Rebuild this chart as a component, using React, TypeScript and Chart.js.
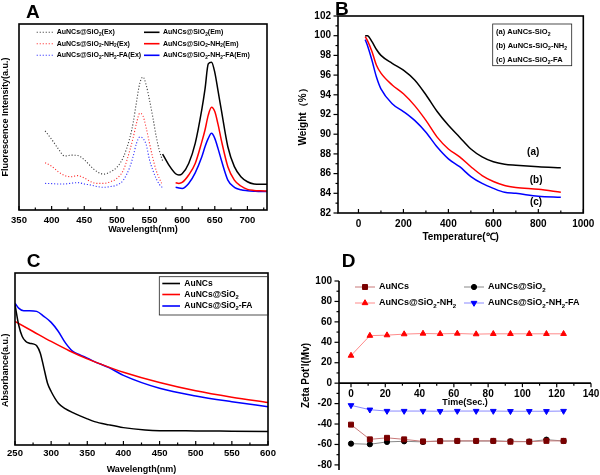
import React, { useEffect, useRef } from 'react';
import { Chart, registerables } from 'chart.js';

Chart.register(...registerables);

const FONT = "'Liberation Sans', Arial, Helvetica, sans-serif";
Chart.defaults.font.family = FONT;
Chart.defaults.color = '#000';

// ---------- Panel A : fluorescence ----------
const A_EX_X = [390, 400, 410, 420, 430, 440, 450, 460, 470, 480, 490, 500, 510, 520, 525, 530, 535, 540, 545, 550, 555, 560, 565, 570];
const A_EX_SIO2 = [42.5, 38, 33, 29, 29.5, 29.3, 27, 23.5, 20.5, 19.3, 20.5, 23, 28.5, 39, 47, 58, 68, 71.5, 67, 59, 50, 40, 32, 26.5];
const A_EX_NH2 = [25.4, 23.5, 20.6, 18.5, 17.9, 18.5, 17.2, 15.2, 14.3, 14.3, 15.2, 17, 21.5, 32.3, 39, 46.6, 52, 50.5, 44, 35.8, 28, 21.5, 17, 13.4];
const A_EX_FA = [14.3, 14.2, 14, 14, 14.4, 14.7, 14, 13.4, 12.6, 12.2, 12.6, 13.4, 16.1, 23.3, 29, 35.8, 39.2, 38.5, 35, 26.9, 21.5, 17, 13.8, 12];
const A_EM_X = [570, 580, 590, 595, 600, 610, 620, 630, 635, 640, 645, 650, 655, 660, 670, 680, 690, 700, 710, 720, 730];
const A_EM_SIO2 = [30.1, 24, 19.5, 18.8, 19.5, 25, 35.8, 53.8, 65, 78.5, 79.5, 74, 64, 53.8, 34, 23.3, 17.9, 15.2, 14, 13.8, 13.8];
const A_EM_NH2 = [null, null, 14.6, 14.3, 14.8, 18.8, 25, 36.5, 43, 51, 55.2, 52.9, 46, 37.6, 23.3, 16.1, 12.9, 11.1, 10.5, 10.3, 10.2];
const A_EM_FA = [null, null, 12.2, 11.8, 11.6, 14.3, 20, 28.5, 34, 38.5, 41.2, 38.5, 33, 26.9, 16.1, 12.2, 10.9, 10.4, 10.1, 9.9, 9.9];
const A_X_TICKS = [350, 400, 450, 500, 550, 600, 650, 700];
const A_X_MINOR = [375, 425, 475, 525, 575, 625, 675, 725];
const A_LEGEND = ['AuNCs@SiO_2(Ex)', 'AuNCs@SiO_2-NH_2(Ex)', 'AuNCs@SiO_2-NH_2-FA(Ex)', 'AuNCs@SiO_2(Em)', 'AuNCs@SiO_2-NH_2(Em)', 'AuNCs@SiO_2-NH_2-FA(Em)'];

// ---------- Panel B : TGA ----------
const B_X = [30, 40, 60, 80, 100, 150, 200, 250, 300, 350, 400, 450, 500, 550, 600, 650, 700, 800, 900];
const B_SIO2 = [100, 100, 99.4, 98.6, 98.0, 97.2, 96.5, 95.5, 94.0, 92.3, 90.9, 89.7, 88.5, 87.7, 87.2, 86.95, 86.85, 86.7, 86.6];
const B_NH2 = [99.9, 99.5, 98.4, 97.0, 96.2, 95.0, 94.1, 92.9, 91.4, 89.7, 88.5, 87.7, 86.7, 85.8, 85.2, 84.8, 84.6, 84.4, 84.1];
const B_FA = [99.6, 99.0, 97.5, 95.8, 94.6, 93.1, 92.3, 91.4, 90.2, 88.7, 87.5, 86.7, 85.7, 85.0, 84.5, 84.1, 84.0, 83.7, 83.6];
const B_X_TICKS = [0, 200, 400, 600, 800, 1000];
const B_X_MINOR = [100, 300, 500, 700, 900];
const B_Y_TICKS = [82, 84, 86, 88, 90, 92, 94, 96, 98, 100, 102];
const B_Y_MINOR = [83, 85, 87, 89, 91, 93, 95, 97, 99, 101];
const B_LEGEND = ['(a) AuNCs-SiO_2', '(b) AuNCs-SiO_2-NH_2', '(c) AuNCs-SiO_2-FA'];
const B_TAGS = ['(a)', '(b)', '(c)'];
const B_TAG_X = [777, 790, 790];
const B_TAG_Y = [88.2, 85.3, 83.05];

// ---------- Panel C : UV-vis ----------
const C_BLACK_X = [250, 255, 260, 265, 270, 275, 280, 285, 290, 295, 300, 310, 320, 330, 340, 350, 360, 380, 400, 430, 450, 500, 550, 600];
const C_BLACK = [81.6, 69.9, 63.1, 60.2, 59.2, 58.8, 57.7, 53.4, 44.7, 35.9, 31.1, 24.3, 21, 18.8, 16.9, 15.2, 13.6, 11.7, 10.1, 8.7, 8.3, 8.2, 8.0, 7.8];
const C_RED_X = [250, 275, 300, 325, 350, 375, 400, 450, 500, 550, 600];
const C_RED = [71.8, 66, 60.2, 54.8, 50.1, 46, 42.3, 36.3, 31.5, 27.8, 24.7];
const C_BLUE_X = [250, 255, 262, 270, 280, 290, 300, 310, 320, 330, 340, 350, 360, 380, 400, 450, 500, 550, 600];
const C_BLUE = [82.5, 79.6, 78.1, 78.1, 77.7, 74.8, 71.3, 66, 59.2, 54.4, 52.4, 50.5, 48.5, 45, 40.5, 33, 28.5, 25.2, 22.3];
const C_X_TICKS = [250, 300, 350, 400, 450, 500, 550, 600];
const C_X_MINOR = [275, 325, 375, 425, 475, 525, 575];
const C_LEGEND = ['AuNCs', 'AuNCs@SiO_2', 'AuNCs@SiO_2-FA'];

// ---------- Panel D : zeta potential ----------
const D_TIME = [0, 11, 21, 31, 42, 52, 62, 73, 83, 93, 104, 114, 124];
const D_AUNCS = [-40.6, -55, -53.5, -55, -57, -56.8, -56.5, -56.5, -56.5, -57.3, -57.3, -56.5, -56.5];
const D_SIO2 = [-59.2, -59.8, -57.5, -56.9, -57.5, -56.6, -56.6, -56.6, -56.6, -56.9, -57.2, -55.3, -56.6];
const D_NH2 = [27, 46.5, 47, 48, 48.6, 48.3, 48.6, 48, 48.3, 48.3, 48.3, 48.3, 48.3];
const D_FA = [-21.7, -26, -27.3, -27.3, -27.3, -27.5, -27.3, -27.3, -27.3, -27.5, -27.5, -27.5, -27.3];
const D_X_TICKS = [0, 20, 40, 60, 80, 100, 120, 140];
const D_X_MINOR = [10, 30, 50, 70, 90, 110, 130];
const D_Y_TICKS = [-80, -60, -40, -20, 0, 20, 40, 60, 80, 100];
const D_Y_MINOR = [-70, -50, -30, -10, 10, 30, 50, 70, 90];
const D_LEGEND = ['AuNCs', 'AuNCs@SiO_2', 'AuNCs@SiO_2-NH_2', 'AuNCs@SiO_2-NH_2-FA'];

// ---------- helpers ----------
type Tick = { major: number[]; minor?: number[]; dir: 'in' | 'out'; len: number; minorLen: number };
type Marker = { style: string; color: string; r: number };
type LegendItem = { text: string; color: string; lw: number; dash?: number[]; x0: number; x1: number; tx: number; y: number; marker?: Marker };
type TextItem = { text: string; x: number; y: number; size: number; align?: CanvasTextAlign; baseline?: CanvasTextBaseline; data?: boolean };
type PanelCfg = {
  box: boolean; xAxisAt?: number; xTicks?: Tick; yTicks?: Tick;
  legend?: LegendItem[]; legendSize?: number; legendBox?: number[]; texts?: TextItem[];
};

function drawRich(ctx: CanvasRenderingContext2D, text: string, x: number, y: number, size: number) {
  const parts: { t: string; sub: boolean }[] = [];
  let buf = '';
  for (let i = 0; i < text.length; i++) {
    if (text[i] === '_' && i + 1 < text.length) {
      if (buf) parts.push({ t: buf, sub: false });
      buf = '';
      parts.push({ t: text[i + 1], sub: true });
      i++;
    } else buf += text[i];
  }
  if (buf) parts.push({ t: buf, sub: false });
  ctx.textAlign = 'left';
  ctx.textBaseline = 'middle';
  let cx = x;
  for (const p of parts) {
    const fs = p.sub ? size * 0.68 : size;
    ctx.font = `bold ${fs}px ${FONT}`;
    ctx.fillText(p.t, cx, p.sub ? y + size * 0.32 : y);
    cx += ctx.measureText(p.t).width;
  }
}

function drawMarker(ctx: CanvasRenderingContext2D, m: Marker, x: number, y: number) {
  ctx.save();
  ctx.setLineDash([]);
  ctx.fillStyle = m.color;
  ctx.strokeStyle = m.color;
  ctx.lineWidth = 1;
  ctx.beginPath();
  const r = m.r;
  if (m.style === 'rect') {
    const s = r * Math.SQRT1_2;
    ctx.rect(x - s, y - s, 2 * s, 2 * s);
  } else if (m.style === 'circle') {
    ctx.arc(x, y, r, 0, Math.PI * 2);
  } else {
    const k = m.style === 'triangleDown' ? -1 : 1;
    for (let i = 0; i < 3; i++) {
      const a = (i * 2 * Math.PI) / 3;
      const px = x + Math.sin(a) * r * k;
      const py = y - Math.cos(a) * r * k;
      if (i === 0) ctx.moveTo(px, py); else ctx.lineTo(px, py);
    }
    ctx.closePath();
  }
  ctx.fill();
  ctx.stroke();
  ctx.restore();
}

function makePanelPlugin(cfg: PanelCfg) {
  return {
    id: 'panel',
    afterDraw(chart: any) {
      const { ctx, chartArea: ca, scales } = chart;
      const xs = scales.x;
      const ys = scales.y;
      const line = (x1: number, y1: number, x2: number, y2: number) => {
        ctx.beginPath(); ctx.moveTo(x1, y1); ctx.lineTo(x2, y2); ctx.stroke();
      };
      ctx.save();
      ctx.strokeStyle = '#000';
      ctx.fillStyle = '#000';
      const axisY = cfg.xAxisAt !== undefined ? ys.getPixelForValue(cfg.xAxisAt) : ca.bottom;
      ctx.lineWidth = 1.2;
      if (cfg.xTicks) {
        const t = cfg.xTicks;
        const d = t.dir === 'out' ? 1 : -1;
        t.major.forEach((v) => { const p = xs.getPixelForValue(v); line(p, axisY, p, axisY + d * t.len); });
        (t.minor || []).forEach((v) => { const p = xs.getPixelForValue(v); line(p, axisY, p, axisY + d * t.minorLen); });
      }
      if (cfg.yTicks) {
        const t = cfg.yTicks;
        const d = t.dir === 'out' ? -1 : 1;
        t.major.forEach((v) => { const p = ys.getPixelForValue(v); line(ca.left, p, ca.left + d * t.len, p); });
        (t.minor || []).forEach((v) => { const p = ys.getPixelForValue(v); line(ca.left, p, ca.left + d * t.minorLen, p); });
      }
      ctx.lineWidth = 1.6;
      if (cfg.box) {
        ctx.strokeRect(ca.left, ca.top, ca.right - ca.left, ca.bottom - ca.top);
      } else {
        line(ca.left, ca.top, ca.left, ca.bottom);
        line(ca.left, axisY, ca.right, axisY);
      }
      if (cfg.legendBox) {
        const [bx, by, bw, bh] = cfg.legendBox;
        ctx.lineWidth = 0.8;
        ctx.strokeStyle = '#222';
        ctx.strokeRect(bx, by, bw, bh);
      }
      (cfg.legend || []).forEach((it) => {
        if (it.lw > 0) {
          ctx.save();
          ctx.strokeStyle = it.color;
          ctx.lineWidth = it.lw;
          ctx.setLineDash(it.dash || []);
          line(it.x0, it.y, it.x1, it.y);
          ctx.restore();
        }
        if (it.marker) drawMarker(ctx, it.marker, (it.x0 + it.x1) / 2, it.y);
        ctx.fillStyle = '#000';
        drawRich(ctx, it.text, it.tx, it.y, cfg.legendSize || 8);
      });
      (cfg.texts || []).forEach((t) => {
        ctx.fillStyle = '#000';
        ctx.font = `bold ${t.size}px ${FONT}`;
        ctx.textAlign = t.align || 'left';
        ctx.textBaseline = t.baseline || 'alphabetic';
        const px = t.data ? xs.getPixelForValue(t.x) : t.x;
        const py = t.data ? ys.getPixelForValue(t.y) : t.y;
        ctx.fillText(t.text, px, py);
      });
      ctx.restore();
    },
  };
}

const zeroPad = (s: any) => { s.paddingLeft = 0; s.paddingRight = 0; s.paddingTop = 0; s.paddingBottom = 0; };
const fitW = (w: number) => (s: any) => { s.width = w; zeroPad(s); };
const fitH = (h: number) => (s: any) => { s.height = h; zeroPad(s); };
const setTicks = (vals: number[]) => (s: any) => { s.ticks = vals.map((v) => ({ value: v })); };

function axis(o: {
  min: number; max: number; ticks?: number[]; fit: (s: any) => void; tickSize?: number; tickPad?: number;
  showTicks?: boolean; title: string; titleSize: number; titlePad: { top: number; bottom: number }; position?: any;
}) {
  const a: any = {
    type: 'linear', min: o.min, max: o.max,
    afterFit: o.fit,
    grid: { display: false, drawTicks: false },
    border: { display: false },
    ticks: {
      display: o.showTicks !== false, autoSkip: false, maxRotation: 0, minRotation: 0,
      padding: o.tickPad ?? 5, font: { size: o.tickSize ?? 10, weight: 'bold' }, color: '#000',
      callback: (v: any) => String(v),
    },
    title: { display: true, text: o.title, color: '#000', font: { size: o.titleSize, weight: 'bold' }, padding: o.titlePad },
  };
  if (o.ticks) a.afterBuildTicks = setTicks(o.ticks);
  if (o.position !== undefined) a.position = o.position;
  return a;
}

const pts = (xs: number[], ys: (number | null)[]) => xs.map((x, i) => ({ x, y: ys[i] }));
const curve = (label: string, data: any[], color: string, width: number, dash?: number[]) => ({
  label, data, borderColor: color, backgroundColor: color, borderWidth: width, borderDash: dash || [],
  pointRadius: 0, fill: false, cubicInterpolationMode: 'monotone', spanGaps: false,
});

const baseOptions = (padding: any, scales: any) => ({
  animation: false, responsive: false, maintainAspectRatio: false,
  layout: { padding },
  plugins: { legend: { display: false }, tooltip: { enabled: false } },
  events: [],
  scales,
});

// ---------- chart configs ----------
const EX_COLORS = ['#3a3a3a', '#ff3030', '#3030ff'];
const EM_COLORS = ['#000000', '#ff0000', '#0000ff'];
const DOT = [1.1, 1.9];

function buildA() {
  const rows = [32.3, 43.7, 55.3];
  const legend: LegendItem[] = [
    ...[0, 1, 2].map((i) => ({ text: A_LEGEND[i], color: EX_COLORS[i], lw: 1.1, dash: DOT, x0: 36.7, x1: 53.3, tx: 56.7, y: rows[i] })),
    ...[0, 1, 2].map((i) => ({ text: A_LEGEND[i + 3], color: EM_COLORS[i], lw: 1.6, x0: 144, x1: 159.5, tx: 163, y: rows[i] })),
  ];
  return {
    type: 'line',
    data: {
      datasets: [
        curve(A_LEGEND[0], pts(A_EX_X, A_EX_SIO2), EX_COLORS[0], 1.1, DOT),
        curve(A_LEGEND[1], pts(A_EX_X, A_EX_NH2), EX_COLORS[1], 1.1, DOT),
        curve(A_LEGEND[2], pts(A_EX_X, A_EX_FA), EX_COLORS[2], 1.1, DOT),
        curve(A_LEGEND[3], pts(A_EM_X, A_EM_SIO2), EM_COLORS[0], 1.5),
        curve(A_LEGEND[4], pts(A_EM_X, A_EM_NH2), EM_COLORS[1], 1.5),
        curve(A_LEGEND[5], pts(A_EM_X, A_EM_FA), EM_COLORS[2], 1.5),
      ],
    },
    options: baseOptions({ left: 0, top: 24, right: 33, bottom: 0 }, {
      x: axis({ min: 350, max: 730, ticks: A_X_TICKS, fit: fitH(30), tickSize: 9.5, tickPad: 5, title: 'Wavelength(nm)', titleSize: 9, titlePad: { top: 0, bottom: 4.6 } }),
      y: axis({ min: 0, max: 100, fit: fitW(19), showTicks: false, title: 'Fluorescence Intensity(a.u.)', titleSize: 9, titlePad: { top: 0, bottom: 0 } }),
    }),
    plugins: [makePanelPlugin({
      box: true,
      xTicks: { major: A_X_TICKS, minor: A_X_MINOR, dir: 'in', len: 4, minorLen: 2.5 },
      legend, legendSize: 7,
      texts: [{ text: 'A', x: 26, y: 18, size: 19 }],
    })],
  };
}

function buildB() {
  const rows = [32.3, 45.7, 60];
  return {
    type: 'line',
    data: {
      datasets: [
        curve('(a)', pts(B_X, B_SIO2), '#000000', 1.5),
        curve('(b)', pts(B_X, B_NH2), '#ff0000', 1.5),
        curve('(c)', pts(B_X, B_FA), '#0000ff', 1.5),
      ],
    },
    options: baseOptions({ left: 0, top: 16, right: 16.7, bottom: 0 }, {
      x: axis({ min: -91, max: 1000, ticks: B_X_TICKS, fit: fitH(37), tickSize: 10, tickPad: 5, title: 'Temperature(℃)', titleSize: 10, titlePad: { top: 0, bottom: 7 } }),
      y: axis({ min: 82, max: 102, ticks: B_Y_TICKS, fit: fitW(41), tickSize: 10, tickPad: 7, title: 'Weight（%）', titleSize: 10, titlePad: { top: 0, bottom: 0 } }),
    }),
    plugins: [makePanelPlugin({
      box: true,
      xTicks: { major: B_X_TICKS, minor: B_X_MINOR, dir: 'in', len: 4, minorLen: 2.5 },
      yTicks: { major: B_Y_TICKS, minor: B_Y_MINOR, dir: 'out', len: 4.5, minorLen: 2.5 },
      legendBox: [195.7, 24, 79, 41.7],
      legend: B_LEGEND.map((t, i) => ({ text: t, color: '#000', lw: 0, x0: 199, x1: 199, tx: 199, y: rows[i] })),
      legendSize: 7.5,
      texts: [
        { text: 'B', x: 38, y: 15, size: 19 },
        ...B_TAGS.map((t, i) => ({ text: t, x: B_TAG_X[i], y: B_TAG_Y[i], size: 10, align: 'center' as CanvasTextAlign, baseline: 'middle' as CanvasTextBaseline, data: true })),
      ],
    })],
  };
}

function buildC() {
  const rows = [43.5, 54.5, 66];
  return {
    type: 'line',
    data: {
      datasets: [
        curve(C_LEGEND[0], pts(C_BLACK_X, C_BLACK), '#000000', 1.5),
        curve(C_LEGEND[1], pts(C_RED_X, C_RED), '#ff0000', 1.5),
        curve(C_LEGEND[2], pts(C_BLUE_X, C_BLUE), '#0000ff', 1.5),
      ],
    },
    options: baseOptions({ left: 0, top: 33, right: 32, bottom: 0 }, {
      x: axis({ min: 250, max: 600, ticks: C_X_TICKS, fit: fitH(30), tickSize: 9.5, tickPad: 3, title: 'Wavelength(nm)', titleSize: 9, titlePad: { top: 0, bottom: 0 } }),
      y: axis({ min: 0, max: 100, fit: fitW(15), showTicks: false, title: 'Absorbance(a.u.)         ', titleSize: 9, titlePad: { top: 0, bottom: 0 } }),
    }),
    plugins: [makePanelPlugin({
      box: true,
      xTicks: { major: C_X_TICKS, minor: C_X_MINOR, dir: 'in', len: 4, minorLen: 2.5 },
      legendBox: [159.3, 36.7, 109, 38.3],
      legend: C_LEGEND.map((t, i) => ({ text: t, color: EM_COLORS[i], lw: 1.6, x0: 162.3, x1: 180, tx: 184.3, y: rows[i] })),
      legendSize: 8.5,
      texts: [{ text: 'C', x: 26.7, y: 26.7, size: 19 }],
    })],
  };
}

const D_STYLE = [
  { line: '#c87878', mark: '#7a0000', style: 'rect', ds: 'rect', rot: 0, r: 3.5 },
  { line: '#888888', mark: '#000000', style: 'circle', ds: 'circle', rot: 0, r: 2.6 },
  { line: '#ff8a8a', mark: '#ff0000', style: 'triangle', ds: 'triangle', rot: 0, r: 3.3 },
  { line: '#8a8aff', mark: '#0000ff', style: 'triangleDown', ds: 'triangle', rot: 180, r: 3.3 },
];

function buildD() {
  const series = [D_AUNCS, D_SIO2, D_NH2, D_FA];
  const lx = [[55, 75, 79], [164, 184, 188], [55, 75, 79], [164, 184, 188]];
  const ly = [47, 47, 63, 63];
  return {
    type: 'line',
    data: {
      datasets: series.map((vals, i) => ({
        label: D_LEGEND[i], data: pts(D_TIME, vals), borderColor: D_STYLE[i].line, borderWidth: 1,
        pointRadius: D_STYLE[i].r, pointStyle: D_STYLE[i].ds, pointRotation: D_STYLE[i].rot,
        pointBackgroundColor: D_STYLE[i].mark, pointBorderColor: D_STYLE[i].mark, pointBorderWidth: 1,
        tension: 0, fill: false,
      })),
    },
    options: baseOptions({ left: 0, top: 41, right: 9, bottom: 5 }, {
      x: axis({ min: -7, max: 140, ticks: D_X_TICKS, fit: fitH(25), tickSize: 10, tickPad: 5, title: 'Time(Sec.)', titleSize: 9, titlePad: { top: 0, bottom: 0 }, position: { y: 0 } }),
      y: axis({ min: -85, max: 100, ticks: D_Y_TICKS, fit: fitW(39), tickSize: 10, tickPad: 7, title: "Zeta Pot'l(Mv)", titleSize: 10, titlePad: { top: 0, bottom: 0 } }),
    }),
    plugins: [makePanelPlugin({
      box: false, xAxisAt: 0,
      xTicks: { major: D_X_TICKS, minor: D_X_MINOR, dir: 'out', len: 4, minorLen: 2.5 },
      yTicks: { major: D_Y_TICKS, minor: D_Y_MINOR, dir: 'out', len: 4.5, minorLen: 2.5 },
      legend: D_LEGEND.map((t, i) => ({
        text: t, color: D_STYLE[i].line, lw: 1, x0: lx[i][0], x1: lx[i][1], tx: lx[i][2], y: ly[i],
        marker: { style: D_STYLE[i].style, color: D_STYLE[i].mark, r: D_STYLE[i].r },
      })),
      legendSize: 9,
      texts: [{ text: 'D', x: 41.7, y: 26.7, size: 19 }],
    })],
  };
}

function Panel({ left, top, width, height, build }: { left: number; top: number; width: number; height: number; build: () => any }) {
  const ref = useRef<HTMLCanvasElement>(null);
  useEffect(() => {
    const chart = new Chart(ref.current as HTMLCanvasElement, build());
    return () => chart.destroy();
  }, []);
  return <canvas ref={ref} width={width} height={height} style={{ position: 'absolute', left, top, width, height }} />;
}

export default function App() {
  return (
    <div style={{ position: 'fixed', left: 0, top: 0, width: 600, height: 475, background: '#fff', overflow: 'hidden' }}>
      <Panel left={0} top={0} width={300} height={240} build={buildA} />
      <Panel left={0} top={240} width={300} height={235} build={buildC} />
      <Panel left={300} top={240} width={300} height={235} build={buildD} />
      <Panel left={297} top={0} width={303} height={250} build={buildB} />
    </div>
  );
}
